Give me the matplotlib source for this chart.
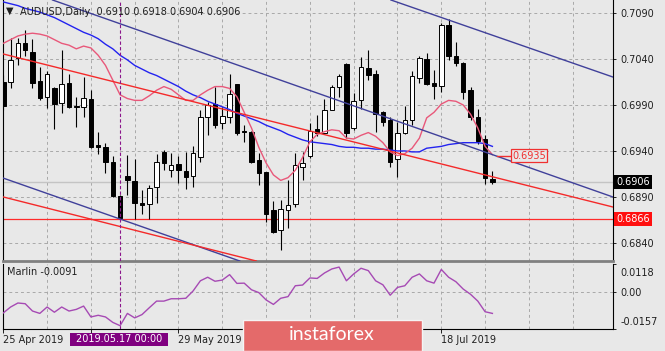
import numpy as np
import pandas as pd
import matplotlib
matplotlib.use("Agg")
import matplotlib.pyplot as plt
from matplotlib.patches import Rectangle
from matplotlib.transforms import ScaledTranslation, blended_transform_factory

### data ###
dates = pd.bdate_range("2019-04-25", periods=68)

opens = [0.7015, 0.7015, 0.7041, 0.7057, 0.7048, 0.7016, 0.6999, 0.7008, 0.6992, 0.7014,
         0.6989, 0.6988, 0.6996, 0.6946, 0.6944, 0.6928, 0.6891, 0.6913, 0.6907, 0.6883,
         0.6882, 0.6901, 0.6939, 0.6919, 0.6926, 0.6918, 0.6913, 0.6933, 0.6977, 0.6991,
         0.6970, 0.6977, 0.7013, 0.6962, 0.6961, 0.6930, 0.6917, 0.6876, 0.6854, 0.6876,
         0.6882, 0.6923, 0.6934, 0.6964, 0.6960, 0.6985, 0.7009, 0.7035, 0.6965, 0.6995,
         0.7030, 0.7024, 0.6982, 0.6974, 0.6931, 0.6960, 0.6974, 0.7019, 0.7040, 0.7014,
         0.7011, 0.7077, 0.7043, 0.7036, 0.7006, 0.6977, 0.6953, 0.6910]
highs = [0.7023, 0.7063, 0.7063, 0.7071, 0.7062, 0.7031, 0.7027, 0.7009, 0.7050, 0.7024,
         0.6999, 0.7020, 0.7006, 0.6961, 0.6949, 0.6934, 0.6892, 0.6936, 0.6931, 0.6898,
         0.6903, 0.6937, 0.6941, 0.6938, 0.6935, 0.6939, 0.6945, 0.6985, 0.6993, 0.7010,
         0.6988, 0.7024, 0.7013, 0.6968, 0.6962, 0.6938, 0.6917, 0.6886, 0.6887, 0.6908,
         0.6938, 0.6939, 0.6970, 0.6979, 0.6996, 0.7012, 0.7024, 0.7036, 0.7003, 0.7042,
         0.7050, 0.7028, 0.6983, 0.6977, 0.6972, 0.6989, 0.7027, 0.7043, 0.7046, 0.7028,
         0.7079, 0.7083, 0.7058, 0.7037, 0.7009, 0.6986, 0.6957, 0.6918]
lows = [0.6985, 0.7008, 0.7033, 0.7043, 0.7008, 0.6995, 0.6987, 0.6964, 0.6981, 0.6987,
        0.6966, 0.6977, 0.6943, 0.6937, 0.6916, 0.6890, 0.6866, 0.6892, 0.6866, 0.6872,
        0.6866, 0.6883, 0.6919, 0.6912, 0.6905, 0.6899, 0.6901, 0.6928, 0.6957, 0.6965,
        0.6964, 0.6970, 0.6957, 0.6950, 0.6927, 0.6903, 0.6863, 0.6851, 0.6832, 0.6856,
        0.6879, 0.6908, 0.6932, 0.6956, 0.6958, 0.6985, 0.6999, 0.6954, 0.6963, 0.6986,
        0.7017, 0.6961, 0.6967, 0.6923, 0.6912, 0.6958, 0.6968, 0.7014, 0.7012, 0.6996,
        0.7004, 0.7039, 0.7032, 0.6996, 0.6974, 0.6948, 0.6904, 0.6904]
closes = [0.6989, 0.7039, 0.7057, 0.7050, 0.7014, 0.6998, 0.7024, 0.6991, 0.7013, 0.6988,
          0.6988, 0.6998, 0.6944, 0.6944, 0.6928, 0.6891, 0.6867, 0.6908, 0.6883, 0.6881,
          0.6900, 0.6928, 0.6927, 0.6925, 0.6919, 0.6912, 0.6938, 0.6977, 0.6990, 0.6968,
          0.6978, 0.7002, 0.6959, 0.6961, 0.6928, 0.6916, 0.6872, 0.6852, 0.6877, 0.6881,
          0.6925, 0.6927, 0.6962, 0.6960, 0.6985, 0.7010, 0.7022, 0.6959, 0.6994, 0.7031,
          0.7023, 0.6980, 0.6972, 0.6928, 0.6960, 0.6974, 0.7021, 0.7041, 0.7013, 0.7011,
          0.7077, 0.7043, 0.7036, 0.7004, 0.6977, 0.6951, 0.6911, 0.6906]

ma_slow = [0.7102, 0.7100, 0.7098, 0.7095, 0.7093, 0.7091, 0.7088, 0.7085, 0.7081, 0.7077,
           0.7073, 0.7069, 0.7066, 0.7062, 0.7056, 0.7051, 0.7044, 0.7039, 0.7033, 0.7029,
           0.7025, 0.7022, 0.7018, 0.7014, 0.7010, 0.7005, 0.7001, 0.6998, 0.6994, 0.6991,
           0.6988, 0.6985, 0.6981, 0.6978, 0.6975, 0.6972, 0.6968, 0.6965, 0.6962, 0.6958,
           0.6955, 0.6952, 0.6950, 0.6949, 0.6948, 0.6947, 0.6945, 0.6944, 0.6944, 0.6943,
           0.6943, 0.6942, 0.6942, 0.6941, 0.6940, 0.6940, 0.6939, 0.6939, 0.6943, 0.6944,
           0.6945, 0.6947, 0.6948, 0.6949, 0.6949, 0.6949, 0.6948, 0.6945]
ma_fast = [0.7057, 0.7061, 0.7065, 0.7067, 0.7068, 0.7067, 0.7065, 0.7061, 0.7057, 0.7055,
           0.7051, 0.7054, 0.7052, 0.7044, 0.7033, 0.7017, 0.7001, 0.6997, 0.6995, 0.6995,
           0.7000, 0.7006, 0.7010, 0.7007, 0.7001, 0.6995, 0.6995, 0.7001, 0.7006, 0.7010,
           0.7010, 0.7008, 0.6999, 0.6982, 0.6965, 0.6944, 0.6927, 0.6914, 0.6908, 0.6911,
           0.6919, 0.6933, 0.6950, 0.6958, 0.6961, 0.6963, 0.6962, 0.6954, 0.6953, 0.6957,
           0.6960, 0.6956, 0.6949, 0.6939, 0.6935, 0.6937, 0.6943, 0.6954, 0.6976, 0.6982,
           0.6991, 0.6995, 0.6994, 0.6990, 0.6980, 0.6965, 0.6945, 0.6936]

marlin = [-0.0089, -0.0064, -0.0047, -0.0050, -0.0081, -0.0091, -0.0064, -0.0086, -0.0064, -0.0081,
          -0.0074, -0.0060, -0.0106, -0.0099, -0.0106, -0.0129, -0.0143, -0.0091, -0.0110, -0.0096,
          -0.0067, -0.0039, -0.0039, -0.0029, -0.0029, -0.0027, 0.0004, 0.0047, 0.0062, 0.0045,
          0.0050, 0.0073, 0.0036, 0.0037, 0.0009, -0.0003, -0.0034, -0.0053, -0.0027, -0.0020,
          0.0026, 0.0029, 0.0059, 0.0057, 0.0080, 0.0097, 0.0105, 0.0047, 0.0076, 0.0100,
          0.0090, 0.0047, 0.0030, -0.0014, 0.0019, 0.0026, 0.0062, 0.0076, 0.0047, 0.0037,
          0.0095, 0.0062, 0.0043, 0.0012, -0.0010, -0.0039, -0.0084, -0.0091]

# hand drawn lines: (bar, price) pairs
channel_top = [(54.3, 0.71008), (83.5, 0.70204)]
channel_mid = [(27.0, 0.70476), (83.5, 0.68900)]
channel_low = [(16.0, 0.68660), (32.0, 0.68215)]
red_top = [(0.0, 0.70454), (83.5, 0.68791)]
red_low = [(0.0, 0.68900), (35.2, 0.68193)]
support = 0.6866
target = 0.6935
last_price = 0.6906

price_ticks = [0.6840, 0.6890, 0.6940, 0.6990, 0.7040, 0.7090]
marlin_ticks = [0.0118, 0.0, -0.0157]
marlin_labels = ['0.0118', '0.00', '-0.0157']
date_ticks = [0, 12, 24, 36, 48, 60]
shown_dates = [0, 24, 60]   # the others sit under the cursor box and the logo
cursor_bar = 16

BG = '#e8e8e8'
GRID = '#a9a9a9'
W, H = 665, 351

fig = plt.figure(figsize=(W / 100, H / 100), dpi=100, facecolor=BG)
ax = fig.add_axes([3 / W, 1 - 261 / H, 610 / W, 261 / H], facecolor=BG)
ax2 = fig.add_axes([3 / W, 1 - 329 / H, 610 / W, 65 / H], facecolor=BG, sharex=ax)

x = np.arange(len(closes))
o = np.array(opens); c = np.array(closes)
h = np.array(highs); l = np.array(lows)

ax.set_xlim(-0.04, 83.52)
ax.set_ylim(0.68204, 0.71041)
ax2.set_ylim(-0.0157, 0.0118)

### grid ###
for g in range(6, 84, 6):
    ax.axvline(g, color=GRID, lw=0.7, ls=(0, (3, 3)), zorder=0)
    ax2.axvline(g, color=GRID, lw=0.7, ls=(0, (3, 3)), zorder=0)
for p in price_ticks:
    ax.axhline(p, color=GRID, lw=0.7, ls=(0, (3, 3)), zorder=0)
ax2.axhline(0, color=GRID, lw=0.7, ls=(0, (3, 3)), zorder=0)
ax.axvline(cursor_bar, color='#8b168b', lw=0.8, ls=(0, (3, 2)), zorder=6)
ax2.axvline(cursor_bar, color='#8b168b', lw=0.8, ls=(0, (3, 2)), zorder=6)

ax.axhline(last_price, color='#c4c4c4', lw=1.0, zorder=1)
ax.axhline(support, color='#ff2a2a', lw=0.9, zorder=2)

### candles ###
up = c >= o
ax.vlines(x, l, h, color='black', lw=0.8, zorder=3)
body_lo = np.minimum(o, c)
body_h = np.maximum(np.abs(c - o), 0.00005)
ax.bar(x, body_h, bottom=body_lo, width=0.62, color=np.where(up, 'white', 'black'),
       edgecolor='black', linewidth=0.7, zorder=4)

### moving averages and drawn lines ###
ax.plot(x, ma_slow, color='#2323f0', lw=1.0, zorder=5)
ax.plot(x, ma_fast, color='#e8587a', lw=1.0, zorder=5)
for pts, col in [(channel_top, '#40409a'), (channel_mid, '#40409a'), (channel_low, '#40409a'),
                 (red_top, '#f42a2a'), (red_low, '#f42a2a')]:
    ax.axline(pts[0], pts[1], color=col, lw=1.0, zorder=5)

ax.plot([67.6, 69.4], [target, target], color='#f03030', lw=1.0, zorder=6)
ax.text(72.0, target, '%.4f' % target, color='#f03030', fontsize=7, ha='center', va='center',
        zorder=7, bbox=dict(boxstyle='square,pad=0.15', fc=BG, ec='#f03030', lw=0.9))

### price scale ###
for a in (ax, ax2):
    a.yaxis.tick_right()
    a.tick_params(axis='y', length=2.5, width=0.7, pad=3, labelsize=7, colors='#202020')
    a.spines['top'].set_visible(False)
    a.spines['left'].set_color('black')
    a.spines['right'].set_color('black')
ax.set_yticks(price_ticks)
ax.set_yticklabels(['%.4f' % p for p in price_ticks])
ax.spines['bottom'].set_color('#808080')
ax.spines['bottom'].set_linewidth(2.0)
ax.tick_params(axis='x', bottom=False, labelbottom=False)

tr = blended_transform_factory(ax.transAxes, ax.transData)
ax.text(1.0 + 3 / 610, last_price, '%.4f' % last_price, transform=tr, color='white', fontsize=7,
        va='center', ha='left', zorder=8,
        bbox=dict(boxstyle='square,pad=0.2', fc='black', ec='none'))
ax.text(1.0 + 3 / 610, support, '%.4f' % support, transform=tr, color='white', fontsize=7,
        va='center', ha='left', zorder=8,
        bbox=dict(boxstyle='square,pad=0.2', fc='#ff1010', ec='none'))

### Marlin panel ###
ax2.plot(x, marlin, color='#a64ab4', lw=1.0, zorder=5)
ax2.set_yticks(marlin_ticks)
ax2.set_yticklabels(marlin_labels)
ylabs = ax2.get_yticklabels()
ylabs[0].set_transform(ylabs[0].get_transform() + ScaledTranslation(0, -6 / 72, fig.dpi_scale_trans))
ylabs[-1].set_transform(ylabs[-1].get_transform() + ScaledTranslation(0, 6 / 72, fig.dpi_scale_trans))

ax2.set_xticks(date_ticks)
ax2.set_xticklabels(['%d %s' % (dates[i].day, dates[i].strftime('%b %Y')) if i in shown_dates else ''
                     for i in date_ticks])
ax2.tick_params(axis='x', length=3, width=0.7, pad=1.5, labelsize=7, colors='#202020')
for lab in ax2.get_xticklabels():
    lab.set_horizontalalignment('left')

### header texts ###
fig.text(10 / W, 1 - 11 / H, '\u25bc', fontsize=7, color='#202020', ha='center', va='center')
fig.text(20 / W, 1 - 12 / H, 'AUDUSD,Daily  %.4f %.4f %.4f %.4f' % (opens[-1], highs[-1], lows[-1], closes[-1]),
         fontsize=7, color='#202020', va='center')
fig.text(7 / W, 1 - 272 / H, 'Marlin %.4f' % marlin[-1], fontsize=7, color='#202020', va='center')

### cursor date box ###
fig.add_artist(Rectangle((70 / W, 1 - 346 / H), 98 / W, 13 / H, transform=fig.transFigure,
                         fc='#800080', ec='none', zorder=5))
fig.text(119 / W, 1 - 339.5 / H, dates[cursor_bar].strftime('%Y.%m.%d %H:%M'), fontsize=7,
         color='white', ha='center', va='center', zorder=6)

### logo ###
fig.add_artist(Rectangle((243 / W, 0), 179 / W, 31 / H, transform=fig.transFigure,
                         fc='#e46a6a', ec='#f4f4f4', lw=1, zorder=5))
fig.text(332 / W, 1 - 335 / H, 'instaforex', fontsize=14, color='white', family='Lato',
         ha='center', va='center', zorder=6)

fig.savefig('out.png', dpi=100, facecolor=BG)
